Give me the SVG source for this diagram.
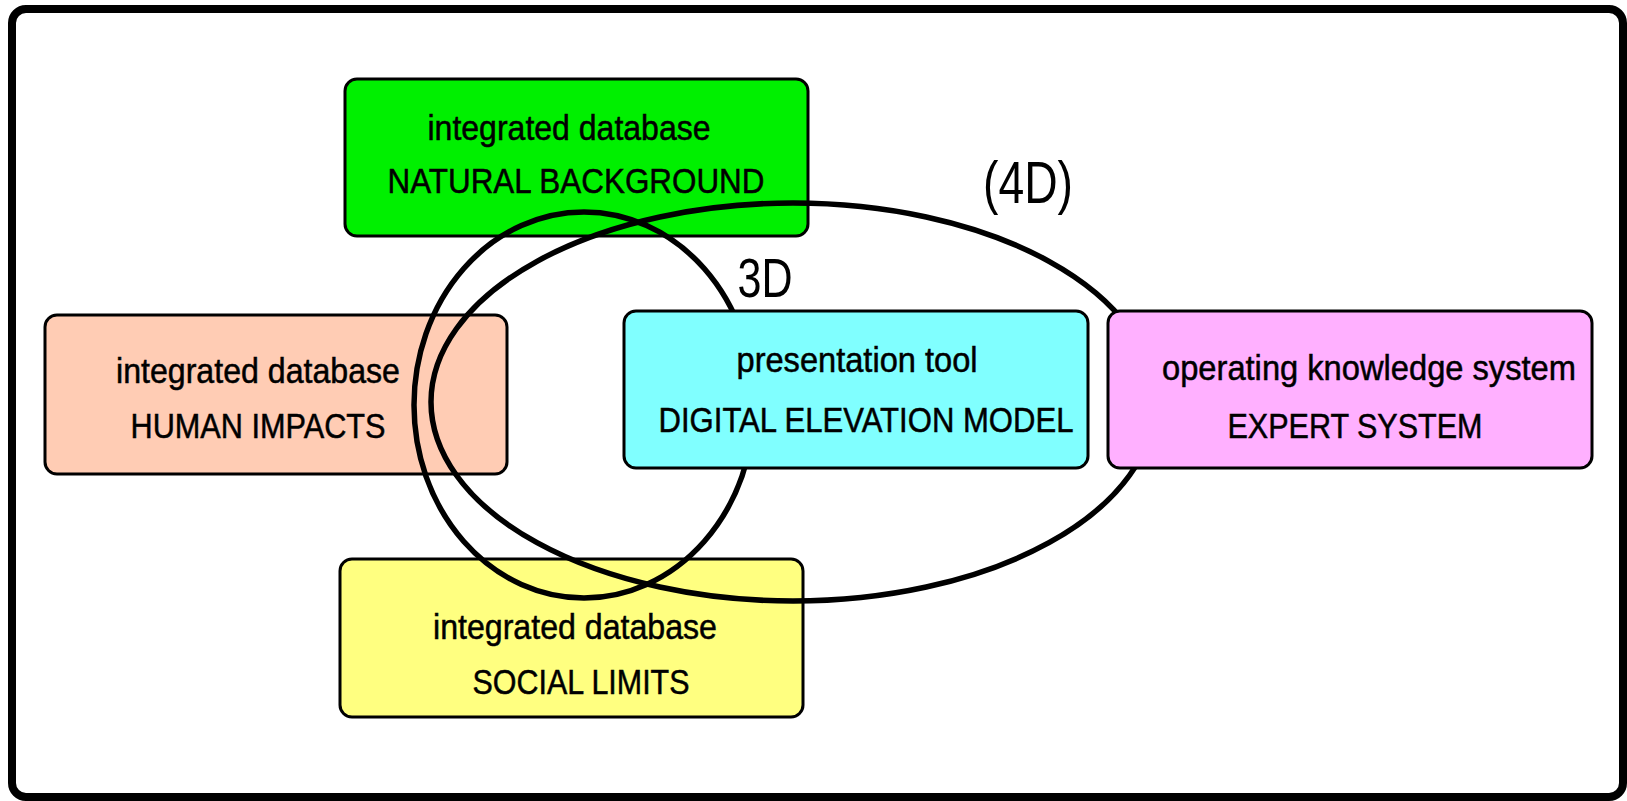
<svg xmlns="http://www.w3.org/2000/svg" width="1627" height="801" viewBox="0 0 1627 801">
<style>
.box{stroke:#000;stroke-width:3}
.t{font-family:"Liberation Sans",Arial,sans-serif;font-size:35px;fill:#000;stroke:#000;stroke-width:0.5;text-anchor:middle}
.lbl{font-family:"Liberation Sans",Arial,sans-serif;fill:#000;text-anchor:middle}
.ell{fill:none;stroke:#000;stroke-width:5.5}
</style>
<rect x="12" y="9" width="1611" height="788" rx="14" fill="#fff" stroke="#000" stroke-width="8"/>
<g id="natural">
<rect class="box" x="345" y="79" width="463" height="157" rx="12" fill="#00F000"/>
<text class="t" x="569" y="140" textLength="283" lengthAdjust="spacingAndGlyphs">integrated database</text>
<text class="t" x="576" y="193" textLength="377" lengthAdjust="spacingAndGlyphs">NATURAL BACKGROUND</text>
</g>
<g id="human">
<rect class="box" x="45" y="315" width="462" height="159" rx="12" fill="#FFCCB4"/>
<text class="t" x="258" y="383" textLength="284" lengthAdjust="spacingAndGlyphs">integrated database</text>
<text class="t" x="258" y="438" textLength="255" lengthAdjust="spacingAndGlyphs">HUMAN IMPACTS</text>
</g>
<g id="social">
<rect class="box" x="340" y="559" width="463" height="158" rx="12" fill="#FFFF80"/>
<text class="t" x="575" y="639" textLength="284" lengthAdjust="spacingAndGlyphs">integrated database</text>
<text class="t" x="581" y="694" textLength="217" lengthAdjust="spacingAndGlyphs">SOCIAL LIMITS</text>
</g>
<g id="connectors">
<ellipse id="e3d" class="ell" cx="584" cy="405" rx="170" ry="193"/>
<ellipse id="e4d" class="ell" cx="793" cy="402" rx="362" ry="199"/>
</g>
<g id="dem">
<rect class="box" x="624" y="311" width="464" height="157" rx="12" fill="#80FFFF"/>
<text class="t" x="857" y="372" textLength="241" lengthAdjust="spacingAndGlyphs">presentation tool</text>
<text class="t" x="866" y="432" textLength="415" lengthAdjust="spacingAndGlyphs">DIGITAL ELEVATION MODEL</text>
</g>
<g id="expert">
<rect class="box" x="1108" y="311" width="484" height="157" rx="12" fill="#FFB0FF"/>
<text class="t" x="1369" y="380" textLength="414" lengthAdjust="spacingAndGlyphs">operating knowledge system</text>
<text class="t" x="1355" y="438" textLength="255" lengthAdjust="spacingAndGlyphs">EXPERT SYSTEM</text>
</g>
<g id="label3d">
<text class="lbl" x="765" y="297" font-size="56" textLength="55" lengthAdjust="spacingAndGlyphs">3D</text>
</g>
<g id="label4d">
<text class="lbl" x="1028" y="203" font-size="60" textLength="90" lengthAdjust="spacingAndGlyphs">(4D)</text>
</g>
</svg>
